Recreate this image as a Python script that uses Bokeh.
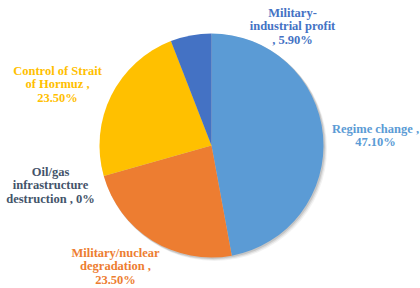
from math import pi
from bokeh.plotting import figure
from bokeh.models import Range1d, ColumnDataSource
from bokeh.core.properties import value
from bokeh.embed import file_html
from bokeh.resources import INLINE

categories = ["Regime change", "Military/nuclear degradation",
              "Oil/gas infrastructure destruction", "Control of Strait of Hormuz",
              "Military-industrial profit"]
values = [47.10, 23.50, 0.0, 23.50, 5.90]
colors = ["#5B9BD5", "#ED7D31", "#A5A5A5", "#FFC000", "#4472C4"]
label_colors = ["#5B9BD5", "#ED7D31", "#44546A", "#FFC000", "#4472C4"]
label_texts = ["Regime change ,\n47.10%",
               "Military/nuclear\ndegradation ,\n23.50%",
               "Oil/gas\ninfrastructure\ndestruction , 0%",
               "Control of Strait\nof Hormuz ,\n23.50%",
               "Military-\nindustrial profit\n, 5.90%"]
# label anchor positions (page pixel layout): centre x, first-line y
label_x = [375, 115, 50, 57, 292]
label_y = [128, 252, 171, 70, 12]
LINE = 13.8

W, H = 420, 288
p = figure(width=W, height=H, output_backend="svg", toolbar_location=None,
           x_range=Range1d(0, W), y_range=Range1d(0, H),
           min_border=0)
p.axis.visible = False
p.grid.visible = False
p.outline_line_color = None
p.background_fill_color = "white"

cx, cy, r = 211, H - 145, 112
total = sum(values)
starts, ends, cols = [], [], []
acc = 0.0
for v, c in zip(values, colors):
    a0 = pi / 2 - 2 * pi * acc / total
    acc += v
    a1 = pi / 2 - 2 * pi * acc / total
    if v > 0:
        starts.append(a0)
        ends.append(a1)
        cols.append(c)

# soft shadow
for dx, al in [(3, 0.08), (2, 0.12), (1, 0.18)]:
    p.circle(x=[cx + dx], y=[cy - dx], radius=r + 0.5, fill_color="#555555",
             fill_alpha=al, line_color=None)

src = ColumnDataSource(dict(start=starts, end=ends, color=cols))
p.wedge(x=cx, y=cy, radius=r, start_angle="start", end_angle="end",
        direction="clock", fill_color="color", line_color=None, source=src)

xs, ys, ts, tc = [], [], [], []
for t, x0, y0, c in zip(label_texts, label_x, label_y, label_colors):
    for k, line in enumerate(t.split("\n")):
        xs.append(x0)
        ys.append(H - (y0 + k * LINE))
        ts.append(line)
        tc.append(c)

lsrc = ColumnDataSource(dict(x=xs, y=ys, text=ts, color=tc))
p.text(x="x", y="y", text="text", text_color="color", source=lsrc,
       text_font=value("Liberation Serif"), text_font_style="bold",
       text_font_size="12.5px", text_align="center", text_baseline="middle")

open("out.html", "w").write(file_html(p, INLINE))
